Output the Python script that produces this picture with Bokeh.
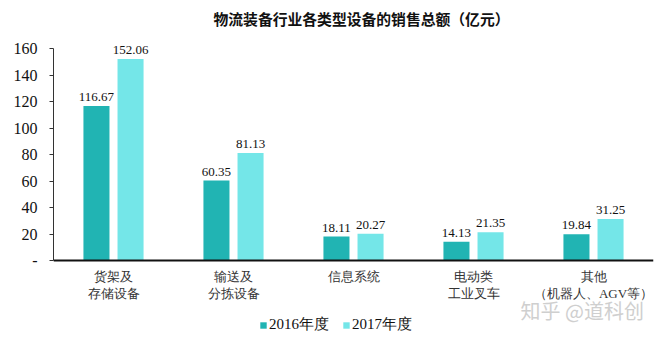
from bokeh.plotting import figure
from bokeh.models import (ColumnDataSource, FactorRange, Range1d, FixedTicker, LabelSet,
                          Label, Legend, LegendItem, Span)
from bokeh.transform import dodge
from bokeh.embed import file_html
from bokeh.resources import INLINE

categories = ["货架及\n存储设备", "输送及\n分拣设备", "信息系统", "电动类\n工业叉车", "其他\n（机器人、AGV等）"]
values_2016 = [116.67, 60.35, 18.11, 14.13, 19.84]
values_2017 = [152.06, 81.13, 20.27, 21.35, 31.25]
series_names = ["2016年度", "2017年度"]
y_ticks = [0, 20, 40, 60, 80, 100, 120, 140, 160]
title_text = "物流装备行业各类型设备的销售总额（亿元）"
watermark = "知乎 @道科创"

DARK = "#21b4b3"
LIGHT = "#74e6e8"
SERIF = "Liberation Serif"
CJK = "Noto Sans CJK SC"

line1 = [c.split("\n")[0] for c in categories]
line2 = [c.split("\n")[1] if "\n" in c else "" for c in categories]

src = ColumnDataSource(dict(
    cat=categories,
    line1=line1,
    line2=line2,
    v16=values_2016,
    v17=values_2017,
    l16=[f"{v:.2f}" for v in values_2016],
    l17=[f"{v:.2f}" for v in values_2017],
))

# frame covers full height; value 0 sits at y=260px, 160 at y=48px
px_per_unit = 212 / 160
y_start = -(341 - 260) / px_per_unit
y_end = 160 + 48 / px_per_unit

p = figure(width=660, height=341, x_range=FactorRange(*categories, range_padding=0),
           y_range=Range1d(y_start, y_end), output_backend="svg", toolbar_location=None,
           x_axis_location=None, title_location=None,
           min_border_left=53, min_border_right=7, min_border_top=0, min_border_bottom=0)
p.outline_line_color = None
p.xgrid.grid_line_color = None
p.ygrid.grid_line_color = None
p.background_fill_color = "white"
p.border_fill_color = "white"

off = 0.142
w = 0.217
r16 = p.vbar(x=dodge("cat", -off, range=p.x_range), top="v16", width=w, source=src,
             fill_color=DARK, line_color=None)
r17 = p.vbar(x=dodge("cat", off, range=p.x_range), top="v17", width=w, source=src,
             fill_color=LIGHT, line_color=None)

for xf, yf, tf in [(-off, "v16", "l16"), (off, "v17", "l17")]:
    p.add_layout(LabelSet(x=dodge("cat", xf, range=p.x_range), y=yf, text=tf, source=src,
                          y_offset=5, text_align="center", text_baseline="bottom",
                          text_font=SERIF, text_font_size="13px", text_color="#111111"))

# x axis baseline at value 0
p.add_layout(Span(location=0, dimension="width", line_color="#111111", line_width=2))

# category labels under the baseline (two lines, each centred)
for field, ypos in [("line1", 65), ("line2", 48)]:
    p.add_layout(LabelSet(x="cat", y=ypos, y_units="screen", text=field, source=src,
                          text_align="center", text_baseline="middle",
                          text_font=CJK, text_font_size="13px", text_color="#333333"))

# y axis
p.yaxis.ticker = FixedTicker(ticks=y_ticks)
p.yaxis.bounds = (0, 160)
p.yaxis.major_label_overrides = {0: "-"}
p.yaxis.major_label_text_font = SERIF
p.yaxis.major_label_text_font_size = "16px"
p.yaxis.major_label_text_color = "#111111"
p.yaxis.axis_line_color = "#333333"
p.yaxis.major_tick_out = 4
p.yaxis.major_tick_in = 0
p.yaxis.major_tick_line_color = "#333333"
p.yaxis.minor_tick_line_color = None
p.yaxis.major_label_standoff = 12

legend = Legend(items=[LegendItem(label=series_names[0], renderers=[r16]),
                       LegendItem(label=series_names[1], renderers=[r17])],
                orientation="horizontal", location=(206, 7),
                glyph_width=8, glyph_height=8, label_standoff=2, spacing=13,
                padding=0, margin=0, border_line_color=None, background_fill_alpha=0,
                label_text_font=SERIF, label_text_font_size="15px", label_text_color="#111111")
p.add_layout(legend, "center")

p.add_layout(Label(x=308, y=323, x_units="screen", y_units="screen", text=title_text,
                   text_align="center", text_baseline="middle", text_font=CJK,
                   text_font_size="14.8px", text_font_style="bold", text_color="#111111"))

p.add_layout(Label(x=467, y=31, x_units="screen", y_units="screen", text=watermark,
                   text_align="left", text_baseline="middle", text_font=CJK,
                   text_font_size="20px", text_color="#cfcfcf"))

open("out.html", "w").write(file_html(p, INLINE))
